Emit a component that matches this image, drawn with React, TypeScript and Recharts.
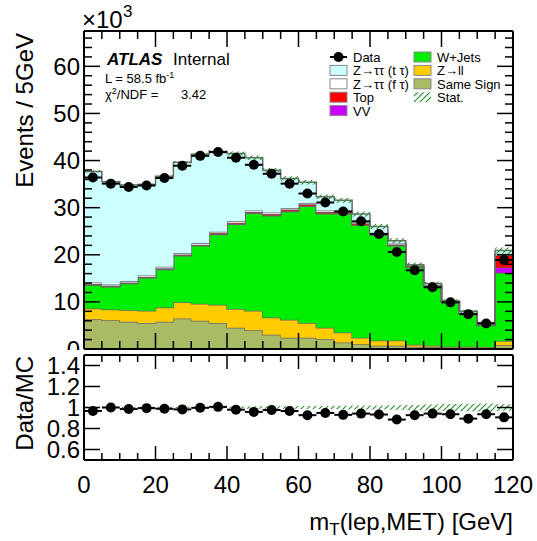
import React from "react";
import { ComposedChart, Area, Scatter, ErrorBar, XAxis, YAxis } from "recharts";

// 24 bins of 5 GeV in m_T(lep,MET)
const binLow = [0, 5, 10, 15, 20, 25, 30, 35, 40, 45, 50, 55, 60, 65, 70, 75, 80, 85, 90, 95, 100, 105, 110, 115];
const binHalfWidth = 2.5;

// stacked MC, in units of 10^3 events (bottom -> top)
const sameSign = [6.3, 6.1, 5.8, 5.5, 5.8, 6.5, 6.0, 5.5, 4.5, 4.0, 3.0, 2.4, 2.4, 2.1, 1.4, 1.0, 0.7, 0.7, 0.5, 0.4, 0.3, 0.3, 0.2, 0.8];
const zll = [2.3, 2.3, 2.5, 2.6, 3.0, 3.4, 3.6, 3.9, 4.0, 4.1, 3.7, 3.8, 3.1, 2.4, 2.1, 1.4, 1.1, 1.1, 0.4, 0.3, 0.2, 0.2, 0.2, 0.9];
const wJets = [5.0, 4.8, 5.6, 7.0, 8.1, 9.9, 12.3, 14.9, 18.0, 20.7, 21.6, 23.0, 24.8, 24.2, 25.2, 23.9, 22.4, 20.1, 16.5, 12.7, 9.4, 7.0, 4.6, 14.5];
const vv = [0.1, 0.1, 0.1, 0.1, 0.1, 0.1, 0.1, 0.1, 0.1, 0.1, 0.1, 0.1, 0.1, 0.1, 0.1, 0.1, 0.1, 0.1, 0.05, 0.05, 0.05, 0.05, 0.05, 1.1];
const top = [0.1, 0.1, 0.1, 0.1, 0.15, 0.15, 0.15, 0.2, 0.2, 0.2, 0.25, 0.3, 0.3, 0.3, 0.3, 0.25, 0.2, 0.2, 0.15, 0.1, 0.1, 0.1, 0.05, 2.6];
const zttFake = [0.3, 0.3, 0.3, 0.3, 0.3, 0.3, 0.3, 0.3, 0.3, 0.3, 0.3, 0.3, 0.3, 0.3, 0.25, 0.2, 0.2, 0.2, 0.1, 0.1, 0.05, 0.05, 0.05, 0.3];
const zttTrue = [23.6, 21.8, 20.4, 19.3, 19.2, 19.3, 18.9, 17.0, 14.4, 11.2, 9.0, 6.3, 4.4, 2.9, 2.2, 1.8, 1.3, 0.6, 0.2, 0.25, 0.1, 0.3, 0.45, 0.7];

const dataCounts = [36.4, 35.1, 34.4, 34.7, 36.3, 38.9, 41.0, 41.8, 40.6, 39.1, 37.2, 35.1, 33.0, 31.1, 29.2, 27.1, 24.4, 20.6, 16.7, 13.1, 9.9, 7.4, 5.4, 18.9];
const dataOverMc = [0.967, 1.0, 0.985, 0.994, 0.988, 0.982, 0.997, 1.006, 0.979, 0.958, 0.976, 0.967, 0.927, 0.948, 0.93, 0.942, 0.933, 0.885, 0.927, 0.942, 0.936, 0.894, 0.936, 0.906];
// relative MC stat. uncertainty
const statRel = [0.006, 0.006, 0.006, 0.006, 0.006, 0.007, 0.007, 0.008, 0.01, 0.012, 0.012, 0.013, 0.014, 0.015, 0.016, 0.018, 0.02, 0.022, 0.025, 0.028, 0.033, 0.036, 0.038, 0.03];

// ticks
const xTicks = [0, 5, 10, 15, 20, 25, 30, 35, 40, 45, 50, 55, 60, 65, 70, 75, 80, 85, 90, 95, 100, 105, 110, 115, 120];
const xLabels = [0, 20, 40, 60, 80, 100, 120];
const yMainLabels = [0, 10, 20, 30, 40, 50, 60];
const yMainTicks = Array.from({ length: 34 }, (_, i) => i * 2);
const yRatioLabels = [0.6, 0.8, 1, 1.2, 1.4];

const FONT = '"Liberation Sans", Arial, Helvetica, sans-serif';
const GRAY = "#6a6a6a";
const HATCH = "#2f8f2f";

const histRows = [...binLow, 120].map((x, i) => {
  const k = Math.min(i, binLow.length - 1);
  const total = sameSign[k] + zll[k] + wJets[k] + vv[k] + top[k] + zttFake[k] + zttTrue[k];
  return {
    x,
    ss: sameSign[k],
    zll: zll[k],
    wj: wJets[k],
    vv: vv[k],
    top: top[k],
    zf: zttFake[k],
    zt: zttTrue[k],
    stat: [total * (1 - statRel[k]), total * (1 + statRel[k])],
  };
});

const ratioRows = [...binLow, 120].map((x, i) => {
  const k = Math.min(i, binLow.length - 1);
  return { x, band: [1 - statRel[k], 1 + statRel[k]] };
});

const dataPoints = binLow.map((x, i) => ({ x: x + binHalfWidth, y: dataCounts[i], xerr: binHalfWidth }));
const ratioPoints = binLow.map((x, i) => ({ x: x + binHalfWidth, y: dataOverMc[i], xerr: binHalfWidth }));

type Side = "bottom" | "top" | "left" | "right";

// ROOT-style ticks: drawn inward, long on labelled values
const tickRenderer =
  (side: Side, majors: number[], majLen: number, minLen: number, withLabels: boolean) =>
  (props: any) => {
    const { x, y, payload } = props;
    const v = payload.value;
    const major = majors.includes(v);
    const len = major ? majLen : minLen;
    let line;
    if (side === "bottom") line = <line x1={x} y1={y} x2={x} y2={y - len} stroke="#000" strokeWidth={1.5} />;
    else if (side === "top") line = <line x1={x} y1={y} x2={x} y2={y + len} stroke="#000" strokeWidth={1.5} />;
    else if (side === "left") line = <line x1={x} y1={y} x2={x + len} y2={y} stroke="#000" strokeWidth={1.5} />;
    else line = <line x1={x} y1={y} x2={x - len} y2={y} stroke="#000" strokeWidth={1.5} />;
    let label = null;
    if (withLabels && major) {
      if (side === "bottom")
        label = (
          <text x={x} y={y + 33} textAnchor="middle" fontSize={24} fontFamily={FONT} fill="#000">
            {v}
          </text>
        );
      if (side === "left")
        label = (
          <text x={x - 4} y={y + 8.5} textAnchor="end" fontSize={24} fontFamily={FONT} fill="#000">
            {v}
          </text>
        );
    }
    return (
      <g>
        {line}
        {label}
      </g>
    );
  };

const dot = (props: any) => <circle cx={props.cx} cy={props.cy} r={5} fill="#000" />;

const axisLine = { stroke: "#000", strokeWidth: 2 };

// axes are 1px thick so they still render; margins are reduced by that 1px
const frameAxes = (yDomain: number[], yTicks: number[], yMajors: number[], xMaj: number, xMin: number, yMaj: number, yMin: number, xLabelled: boolean) => [
  <XAxis
    key="xb"
    dataKey="x"
    type="number"
    domain={[0, 120]}
    allowDataOverflow
    ticks={xTicks}
    interval={0}
    height={1}
    tickSize={0}
    tickMargin={0}
    tickLine={false}
    axisLine={axisLine}
    tick={tickRenderer("bottom", xLabels, xMaj, xMin, xLabelled)}
  />,
  <XAxis
    key="xt"
    xAxisId="top"
    orientation="top"
    dataKey="x"
    type="number"
    domain={[0, 120]}
    allowDataOverflow
    ticks={xTicks}
    interval={0}
    height={1}
    tickSize={0}
    tickMargin={0}
    tickLine={false}
    axisLine={axisLine}
    tick={tickRenderer("top", xLabels, xMaj, xMin, false)}
  />,
  <YAxis
    key="yl"
    type="number"
    domain={yDomain}
    allowDataOverflow
    ticks={yTicks}
    interval={0}
    width={1}
    tickSize={0}
    tickMargin={0}
    tickLine={false}
    axisLine={axisLine}
    tick={tickRenderer("left", yMajors, yMaj, yMin, true)}
  />,
  <YAxis
    key="yr"
    yAxisId="right"
    orientation="right"
    type="number"
    domain={yDomain}
    allowDataOverflow
    ticks={yTicks}
    interval={0}
    width={1}
    tickSize={0}
    tickMargin={0}
    tickLine={false}
    axisLine={axisLine}
    tick={tickRenderer("right", yMajors, yMaj, yMin, false)}
  />,
];

const MainPanel = () => (
  <ComposedChart width={537} height={350} data={histRows} margin={{ top: 30, right: 23, bottom: 0, left: 83 }}>
    {frameAxes([0, 67.5], yMainTicks, yMainLabels, 16, 8, 16, 8, false)}
    <Area type="stepAfter" dataKey="ss" stackId="mc" fill="#aabb66" fillOpacity={1} stroke={GRAY} strokeWidth={1.5} isAnimationActive={false} />
    <Area type="stepAfter" dataKey="zll" stackId="mc" fill="#ffcc00" fillOpacity={1} stroke={GRAY} strokeWidth={1.5} isAnimationActive={false} />
    <Area type="stepAfter" dataKey="wj" stackId="mc" fill="#00ee00" fillOpacity={1} stroke={GRAY} strokeWidth={1.5} isAnimationActive={false} />
    <Area type="stepAfter" dataKey="vv" stackId="mc" fill="#cc00ff" fillOpacity={1} stroke={GRAY} strokeWidth={1.5} isAnimationActive={false} />
    <Area type="stepAfter" dataKey="top" stackId="mc" fill="#ff0000" fillOpacity={1} stroke={GRAY} strokeWidth={1.5} isAnimationActive={false} />
    <Area type="stepAfter" dataKey="zf" stackId="mc" fill="#ffffff" fillOpacity={1} stroke={GRAY} strokeWidth={1.5} isAnimationActive={false} />
    <Area type="stepAfter" dataKey="zt" stackId="mc" fill="#ccffff" fillOpacity={1} stroke={GRAY} strokeWidth={1.5} isAnimationActive={false} />
    <Area type="stepAfter" dataKey="stat" fill="url(#statHatch)" fillOpacity={1} stroke="none" isAnimationActive={false} />
    <Scatter data={dataPoints} dataKey="y" shape={dot} isAnimationActive={false}>
      <ErrorBar dataKey="xerr" direction="x" width={0} stroke="#000" strokeWidth={2} />
    </Scatter>
  </ComposedChart>
);

const RatioPanel = () => (
  <ComposedChart width={537} height={191} data={ratioRows} margin={{ top: 4, right: 23, bottom: 80, left: 83 }}>
    {frameAxes([0.5, 1.5], yRatioLabels, yRatioLabels, 14, 7, 16, 8, true)}
    <Area type="stepAfter" dataKey="band" fill="url(#statHatch)" fillOpacity={1} stroke="none" isAnimationActive={false} />
    <Scatter data={ratioPoints} dataKey="y" shape={dot} isAnimationActive={false}>
      <ErrorBar dataKey="xerr" direction="x" width={0} stroke="#000" strokeWidth={2} />
    </Scatter>
  </ComposedChart>
);

const legendLeft = [
  { label: "Z\u2192\u03c4\u03c4 (t \u03c4)", color: "#ccffff" },
  { label: "Z\u2192\u03c4\u03c4 (f \u03c4)", color: "#ffffff" },
  { label: "Top", color: "#ff0000" },
  { label: "VV", color: "#cc00ff" },
];
const legendRight = [
  { label: "W+Jets", color: "#00ee00" },
  { label: "Z\u2192ll", color: "#ffcc00" },
  { label: "Same Sign", color: "#aabb66" },
];

const Overlay = () => {
  const rowY = (i: number) => 57 + i * 13.4;
  return (
    <svg width={537} height={541} style={{ position: "absolute", left: 0, top: 0, pointerEvents: "none" }}>
      <g fontFamily={FONT} fill="#000">
        <text x={82} y={28} fontSize={24}>
          {"\u00d710"}
        </text>
        <text x={123} y={17} fontSize={17}>
          3
        </text>

        <text x={107} y={65} fontSize={17} fontWeight="bold" fontStyle="italic">
          ATLAS
        </text>
        <text x={173} y={65} fontSize={17}>
          Internal
        </text>
        <text x={105} y={83} fontSize={13}>
          L = 58.5 fb
          <tspan fontSize={9} dy={-5}>
            -1
          </tspan>
        </text>
        <text x={105} y={99} fontSize={13}>
          {"\u03c7"}
          <tspan fontSize={9} dy={-5}>
            2
          </tspan>
          <tspan dy={5}>/NDF =</tspan>
        </text>
        <text x={181} y={99} fontSize={13}>
          3.42
        </text>

        {/* legend */}
        <line x1={330} x2={347} y1={rowY(0)} y2={rowY(0)} stroke="#000" strokeWidth={2} />
        <circle cx={338.5} cy={rowY(0)} r={5} fill="#000" />
        <text x={353} y={rowY(0) + 5} fontSize={13}>
          Data
        </text>
        {legendLeft.map((e, i) => (
          <g key={e.label}>
            <rect x={330} y={rowY(i + 1) - 5} width={17} height={10} fill={e.color} stroke="#888" strokeWidth={1} />
            <text x={353} y={rowY(i + 1) + 5} fontSize={13}>
              {e.label}
            </text>
          </g>
        ))}
        {legendRight.map((e, i) => (
          <g key={e.label}>
            <rect x={414} y={rowY(i) - 5} width={17} height={10} fill={e.color} stroke="#888" strokeWidth={1} />
            <text x={437} y={rowY(i) + 5} fontSize={13}>
              {e.label}
            </text>
          </g>
        ))}
        <rect x={414} y={rowY(3) - 5} width={17} height={10} fill="url(#statHatch)" />
        <text x={437} y={rowY(3) + 5} fontSize={13}>
          Stat.
        </text>

        {/* axis titles */}
        <text transform="translate(33,33) rotate(-90)" textAnchor="end" fontSize={24}>
          Events / 5GeV
        </text>
        <text transform="translate(33,356) rotate(-90)" textAnchor="end" fontSize={24}>
          Data/MC
        </text>
        <text x={513} y={530} textAnchor="end" fontSize={24}>
          m
          <tspan fontSize={17} dy={5}>
            T
          </tspan>
          <tspan dy={-5}>(lep,MET) [GeV]</tspan>
        </text>
      </g>
    </svg>
  );
};

export default function App() {
  return (
    <div style={{ position: "absolute", left: 0, top: 0, width: 537, height: 541, background: "#fff", overflow: "hidden" }}>
      <svg width={0} height={0} style={{ position: "absolute" }}>
        <defs>
          <pattern id="statHatch" patternUnits="userSpaceOnUse" width={6} height={6}>
            <path d="M0,6 L6,0 M-1,1 L1,-1 M5,7 L7,5" stroke={HATCH} strokeWidth={1.2} />
          </pattern>
        </defs>
      </svg>
      <div style={{ position: "absolute", left: 0, top: 0 }}>
        <MainPanel />
      </div>
      <div style={{ position: "absolute", left: 0, top: 350 }}>
        <RatioPanel />
      </div>
      <Overlay />
    </div>
  );
}
